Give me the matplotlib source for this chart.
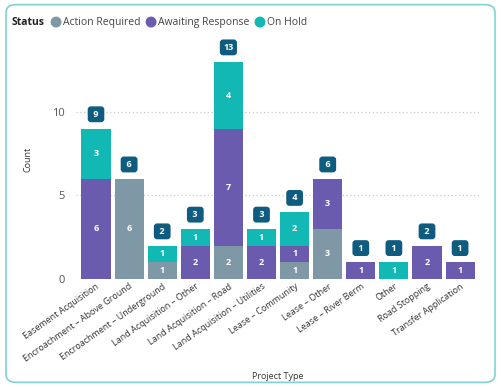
import numpy as np
import matplotlib.pyplot as plt
from matplotlib.patches import FancyBboxPatch, Ellipse

categories = ["Easement Acquisition", "Encroachment \u2013 Above Ground", "Encroachment \u2013 Underground",
              "Land Acquisition \u2013 Other", "Land Acquisition \u2013 Road", "Land Acquisition \u2013 Utilities",
              "Lease \u2013 Community", "Lease \u2013 Other", "Lease \u2013 River Berm", "Other",
              "Road Stopping", "Transfer Application"]
action_required = [0, 6, 1, 0, 2, 0, 1, 3, 0, 0, 0, 0]
awaiting_response = [6, 0, 0, 2, 7, 2, 1, 3, 1, 0, 2, 1]
on_hold = [3, 0, 1, 1, 4, 1, 2, 0, 0, 1, 0, 0]

series = [("Action Required", action_required, "#7F98A6"),
          ("Awaiting Response", awaiting_response, "#6B5BAE"),
          ("On Hold", on_hold, "#12B8B3")]

plt.rcParams['font.family'] = ['Open Sans', 'DejaVu Sans']

fig = plt.figure(figsize=(5.01, 3.87), dpi=100)
ax = fig.add_axes([0.152, 0.279, 0.806, 0.618])

x = np.arange(len(categories))
bottom = np.zeros(len(categories))
for name, vals, col in series:
    vals = np.array(vals)
    ax.bar(x, vals, bottom=bottom, width=0.88, color=col, zorder=2)
    for i, v in enumerate(vals):
        if v > 0:
            ax.text(x[i], bottom[i] + v / 2, str(v), ha='center', va='center',
                    color='white', fontsize=6.5, fontweight='bold', zorder=3)
    bottom += vals

# total badges
for i, t in enumerate(bottom):
    lbl = str(int(t))
    lbl = ' ' + lbl + ' ' if len(lbl) == 1 else lbl
    ax.text(x[i], t + 0.85, lbl, ha='center', va='center', color='white',
            fontsize=6.5, fontweight='bold', zorder=4,
            bbox=dict(boxstyle='round,pad=0.38,rounding_size=0.35', fc='#0E5C80', ec='none'))

ax.set_xlim(-0.6, len(categories) - 0.4)
ax.set_ylim(0, 14.3)
ax.set_yticks([0, 5, 10])
ax.tick_params(axis='y', length=0, labelsize=8, labelcolor='#555555', pad=8)
ax.tick_params(axis='x', length=0, labelsize=6.5, labelcolor='#333333', pad=2)
ax.set_xticks(x)
ax.set_xticklabels(categories, rotation=35, ha='right', rotation_mode='anchor')
ax.grid(axis='y', linestyle=(0, (1, 2)), color='#C8C8C8', linewidth=0.9, zorder=0)
for s in ax.spines.values():
    s.set_visible(False)

ax.set_ylabel("Count", fontsize=6.5, color='#333333', labelpad=14)
fig.text(0.555, 0.028, "Project Type", ha='center', va='center', fontsize=6.5, color='#333333')

# legend, laid out left to right from measured text widths
renderer = fig.canvas.get_renderer()
ly = 0.943
W = fig.bbox.width
t = fig.text(0.024, ly, "Status", fontsize=7.5, fontweight='bold', color='#222222', va='center')
px = t.get_window_extent(renderer).x1 / W + 0.022
for name, vals, col in series:
    fig.patches.append(Ellipse((px, ly), 0.019, 0.019 * 501 / 387, transform=fig.transFigure,
                               color=col, figure=fig))
    t = fig.text(px + 0.013, ly, name, fontsize=7.5, color='#444444', va='center')
    px = t.get_window_extent(renderer).x1 / W + 0.022

border = FancyBboxPatch((0.012, 0.012), 0.976, 0.976, boxstyle='round,pad=0,rounding_size=0.02',
                        transform=fig.transFigure, fc='none', ec='#7FD3D3', lw=1.2)
fig.patches.append(border)

fig.savefig("out.png", dpi=100)
